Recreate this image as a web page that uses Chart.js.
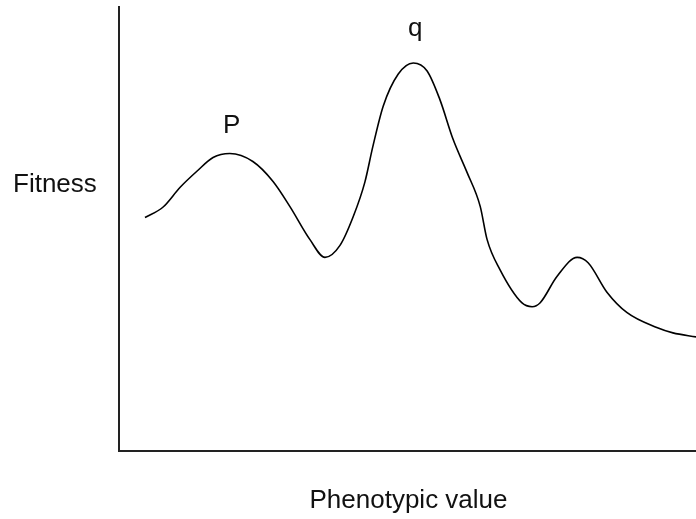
<!DOCTYPE html>
<html>
<head>
<meta charset="utf-8">
<script src="https://cdn.jsdelivr.net/npm/chart.js@4/dist/chart.umd.min.js"></script>
<style>
html,body{margin:0;padding:0;background:#fff;}
#wrap{width:696px;height:519px;position:relative;}
</style>
</head>
<body>
<div id="wrap"><canvas id="c" width="696" height="519"></canvas></div>
<script>
// Phenotypic value (arbitrary units, 0-100 along the axis)
const phenotype = [4.5,7.6,10.6,13.5,16.3,19.2,23.2,26.7,29.6,33.1,35.7,38.3,40.6,42.6,44.0,45.8,48.4,51.0,53.4,55.6,57.9,60.3,62.6,63.8,66.0,69.8,71.6,73.0,75.9,79.4,81.3,84.6,88.0,93.2,96.0,100];
// Fitness (arbitrary units, 0-100 along the axis)
const fitness = [52.6,54.9,59.4,63.0,66.1,67.0,65.2,60.7,55.1,47.6,43.6,46.3,52.8,60.5,68.6,77.7,84.9,87.4,85.6,79.2,70.2,62.8,55.1,47.6,40.9,33.4,32.5,33.4,39.3,43.6,42.4,35.7,31.2,27.8,26.6,25.7];
// Peak labels
const peakLabels = ["P","q"];
const peakX = [19.2,51.0];
const peakY = [67.0,87.4];
const xTitle = "Phenotypic value";
const yTitle = "Fitness";

const FONT = '26px "Liberation Sans", Arial, sans-serif';

const textPlugin = {
  id: 'texts',
  afterDraw(chart) {
    const ctx = chart.ctx;
    const xs = chart.scales.x, ys = chart.scales.y;
    ctx.save();
    ctx.fillStyle = '#111';
    ctx.font = FONT;
    ctx.textBaseline = 'alphabetic';
    ctx.textAlign = 'center';
    for (let i = 0; i < peakLabels.length; i++) {
      const px = xs.getPixelForValue(peakX[i]);
      const py = ys.getPixelForValue(peakY[i]);
      ctx.fillText(peakLabels[i], px + 2, py - (i === 0 ? 21 : 27));
    }
    ctx.textAlign = 'left';
    ctx.fillText(yTitle, 13, 192);
    ctx.textAlign = 'center';
    ctx.fillText(xTitle, (xs.left + xs.right) / 2 + 1, 508);
    ctx.restore();
  }
};

new Chart(document.getElementById('c'), {
  type: 'line',
  data: {
    datasets: [{
      data: phenotype.map((x, i) => ({x: x, y: fitness[i]})),
      borderColor: '#000',
      borderWidth: 1.6,
      pointRadius: 0,
      cubicInterpolationMode: 'monotone',
      fill: false
    }]
  },
  options: {
    responsive: false,
    animation: false,
    devicePixelRatio: 1,
    layout: { padding: { left: 119, top: 7, right: 0, bottom: 68 } },
    plugins: { legend: { display: false }, tooltip: { enabled: false } },
    scales: {
      x: {
        type: 'linear', min: 0, max: 100,
        grid: { display: false, drawTicks: false },
        border: { display: true, color: '#222', width: 2 },
        ticks: { display: false },
        afterFit(s) { s.height = 0; }
      },
      y: {
        type: 'linear', min: 0, max: 100,
        grid: { display: false, drawTicks: false },
        border: { display: true, color: '#222', width: 2 },
        ticks: { display: false },
        afterFit(s) { s.width = 0; }
      }
    }
  },
  plugins: [textPlugin]
});
</script>
</body>
</html>
